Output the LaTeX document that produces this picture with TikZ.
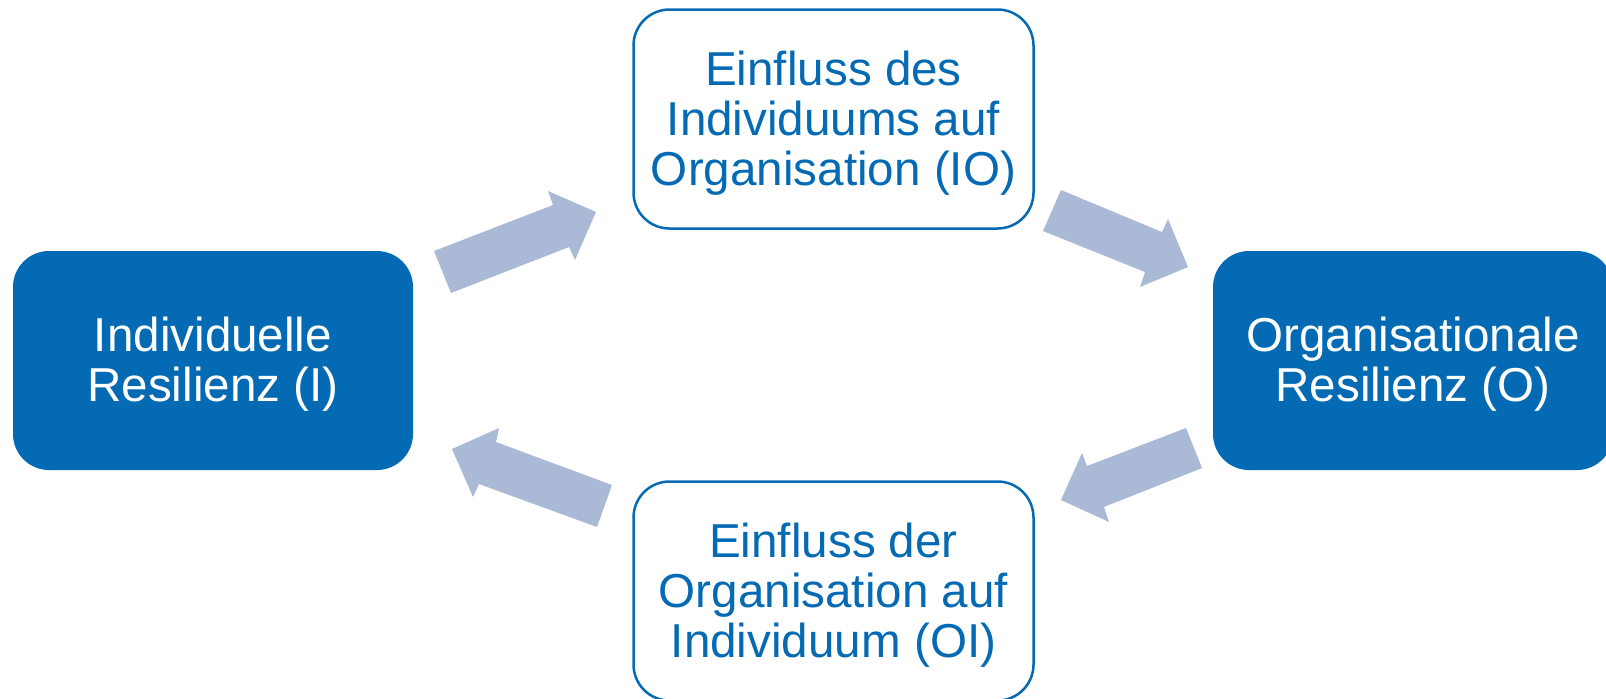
\documentclass[tikz,border=0pt]{standalone}
\usepackage{fontspec}
\setmainfont{Liberation Sans}
\usepackage{tikz}
\usetikzlibrary{positioning}

\definecolor{resblue}{RGB}{4,106,179}
\definecolor{arrowblue}{RGB}{169,185,214}

\begin{document}
\begin{tikzpicture}[x=0.5pt,y=-0.5pt,
    filledbox/.style={rectangle, rounded corners=18pt, fill=resblue, text=white,
      minimum width=200pt, minimum height=109.5pt, align=center, text depth=1pt,
      font=\fontsize{23.8}{25}\selectfont},
    outlinebox/.style={filledbox, fill=white, draw=resblue, line width=1.25pt, text=resblue},
    bigarrow/.style={fill=arrowblue}]
            \useasboundingbox (0,0) rectangle (1606,698);
            % the four boxes
            \node[filledbox] (ind) at (213,360.5) {Individuelle\\Resilienz (I)};
            \node[filledbox] (org) at (1413,360.5) {Organisationale\\Resilienz (O)};
            \node[outlinebox] (io) at (833.5,119) {Einfluss des\\Individuums auf\\Organisation (IO)};
            \node[outlinebox] (oi) at (833.5,591) {Einfluss der\\Organisation auf\\Individuum (OI)};
            % cycle arrows
            \fill[bigarrow] (434,251) -- (553,205) -- (548,191) -- (596,212) -- (575,260) -- (569,247) -- (451,293) -- cycle;
            \fill[bigarrow] (1061,190) -- (1162,232) -- (1168,219) -- (1188,267) -- (1140,287) -- (1145,272) -- (1043,231) -- cycle;
            \fill[bigarrow] (1186,428) -- (1087,466) -- (1082,453) -- (1061,500) -- (1109,522) -- (1104,507) -- (1202,468) -- cycle;
            \fill[bigarrow] (612,485) -- (496,442) -- (499,428) -- (452,449) -- (473,497) -- (479,484) -- (597,527) -- cycle;
\end{tikzpicture}
\end{document}
